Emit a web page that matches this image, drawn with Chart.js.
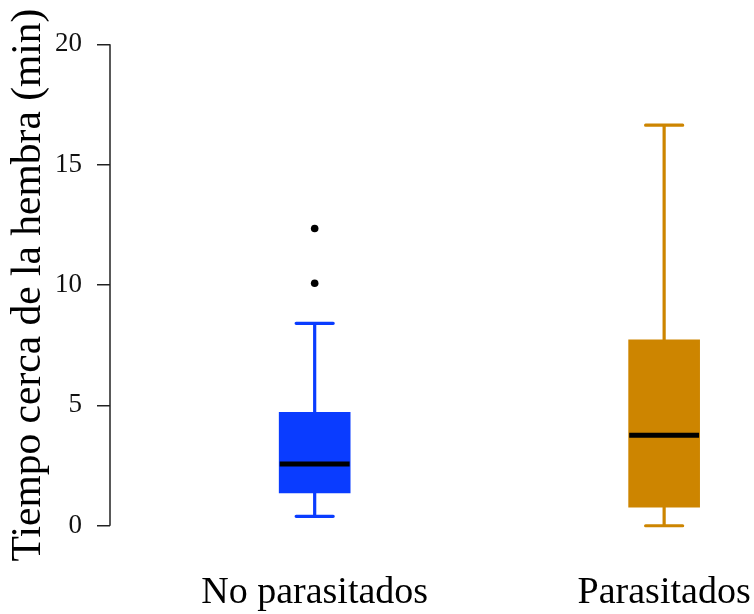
<!DOCTYPE html>
<html>
<head>
<meta charset="utf-8">
<title>Tiempo cerca de la hembra</title>
<script src="https://cdn.jsdelivr.net/npm/chart.js@4.4.1/dist/chart.umd.min.js"></script>
<style>
    html, body { margin: 0; padding: 0; background: #fff; }
    #wrap { width: 754px; height: 614px; }
</style>
</head>
<body>
<div id="wrap"><canvas id="boxChart" width="754" height="614"></canvas></div>
<script>
// Resumen de cada grupo (minutos)
const groups = ['No parasitados', 'Parasitados'];
const lowerWhisker = [0.39, 0.0];
const q1 = [1.36, 0.77];
const median = [2.56, 3.76];
const q3 = [4.71, 7.72];
const upperWhisker = [8.41, 16.64];
const outliers = [[10.07, 12.35], []];
const boxColors = ['#0a3cff', '#cd8500'];
const yTicks = [0, 5, 10, 15, 20];

const BOX_HALF = 0.1;    // media anchura de la caja (unidades del eje x)
const CAP_HALF = 0.053;  // media anchura del remate de los bigotes
const SERIF = "'Liberation Serif', 'Times New Roman', serif";

const gap = (x) => ({ x: x, y: null });

// bigotes + remates, un dataset por grupo
const whiskerSets = groups.map((name, i) => {
    const g = i + 1;
    return {
        type: 'line',
        order: 3,
        data: [
            { x: g, y: q3[i] }, { x: g, y: upperWhisker[i] }, gap(g),
            { x: g - CAP_HALF, y: upperWhisker[i] }, { x: g + CAP_HALF, y: upperWhisker[i] }, gap(g),
            { x: g, y: q1[i] }, { x: g, y: lowerWhisker[i] }, gap(g),
            { x: g - CAP_HALF, y: lowerWhisker[i] }, { x: g + CAP_HALF, y: lowerWhisker[i] }
        ],
        borderColor: boxColors[i],
        borderWidth: 3.2,
        borderCapStyle: 'round',
        pointRadius: 0,
        spanGaps: false,
        tension: 0
    };
});

const medianData = [];
groups.forEach((name, i) => {
    const g = i + 1;
    medianData.push({ x: g - BOX_HALF, y: median[i] }, { x: g + BOX_HALF, y: median[i] }, gap(g));
});

const outlierData = [];
outliers.forEach((vals, i) => vals.forEach(v => outlierData.push({ x: i + 1, y: v })));

// eje y dibujado sólo entre 0 y 20
const yAxisLine = {
    id: 'yAxisLine',
    afterDatasetsDraw(chart) {
        const { ctx, chartArea, scales } = chart;
        const y = scales.y;
        ctx.save();
        ctx.strokeStyle = '#222';
        ctx.lineWidth = 1.5;
        ctx.beginPath();
        ctx.moveTo(chartArea.left, y.getPixelForValue(yTicks[0]));
        ctx.lineTo(chartArea.left, y.getPixelForValue(yTicks[yTicks.length - 1]));
        ctx.stroke();
        ctx.restore();
    }
};

new Chart(document.getElementById('boxChart'), {
    type: 'bar',
    data: {
        datasets: [
            {
                type: 'bar',
                order: 2,
                data: groups.map((name, i) => ({ x: i + 1, y: [q1[i], q3[i]] })),
                backgroundColor: boxColors,
                borderWidth: 0,
                barThickness: 71
            },
            ...whiskerSets,
            {
                type: 'line',
                order: 0,
                data: medianData,
                borderColor: '#000',
                borderWidth: 5,
                borderCapStyle: 'butt',
                pointRadius: 0,
                spanGaps: false
            },
            {
                type: 'scatter',
                order: 1,
                data: outlierData,
                backgroundColor: '#000',
                borderWidth: 0,
                pointRadius: 3.8
            }
        ]
    },
    options: {
        responsive: false,
        animation: false,
        layout: { padding: { top: 25, left: 0, right: 0, bottom: 0 } },
        plugins: {
            legend: { display: false },
            tooltip: { enabled: false }
        },
        scales: {
            x: {
                type: 'linear',
                offset: false,
                min: 0.4143,
                max: 2.2457,
                afterBuildTicks: axis => { axis.ticks = groups.map((n, i) => ({ value: i + 1 })); },
                afterFit: axis => {
                    axis.height = 69;
                    axis.paddingLeft = 0;
                    axis.paddingRight = 0;
                },
                grid: { display: false },
                border: { display: false },
                ticks: {
                    autoSkip: false,
                    maxRotation: 0,
                    padding: 17,
                    color: '#000',
                    font: { family: SERIF, size: 38 },
                    callback: value => groups[value - 1]
                }
            },
            y: {
                min: -0.8,
                max: 20.8,
                afterBuildTicks: axis => { axis.ticks = yTicks.map(v => ({ value: v })); },
                afterFit: axis => {
                    axis.width = 110;
                    axis.paddingTop = 0;
                    axis.paddingBottom = 0;
                },
                border: { display: false },
                grid: {
                    drawOnChartArea: false,
                    drawTicks: true,
                    tickLength: 13,
                    color: '#222',
                    lineWidth: 1.5
                },
                ticks: {
                    padding: 15,
                    color: '#111',
                    font: { family: SERIF, size: 27 }
                },
                title: {
                    display: true,
                    text: 'Tiempo cerca de la hembra (min)',
                    color: '#000',
                    padding: { top: 4, bottom: 0 },
                    font: { family: SERIF, size: 41.5 }
                }
            }
        }
    },
    plugins: [yAxisLine]
});
</script>
</body>
</html>
